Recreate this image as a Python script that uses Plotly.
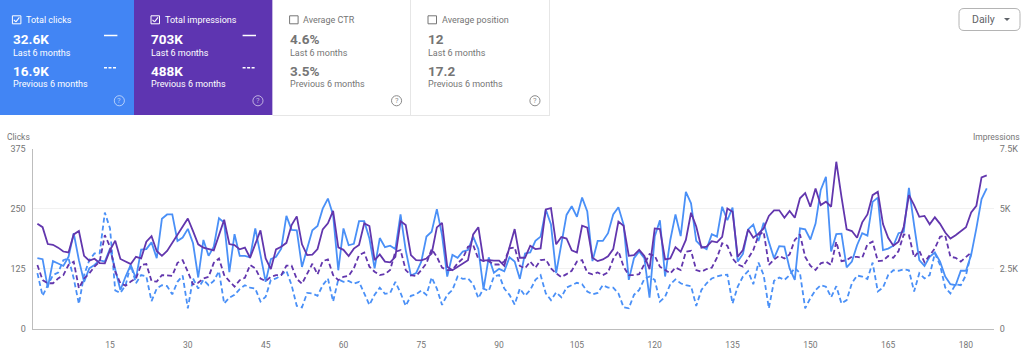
import plotly.graph_objects as go

clicks = [147,145,86,141,136,131,150,199,143,98,126,133,143,140,167,126,81,109,133,105,165,166,180,147,229,238,238,183,190,208,178,107,185,152,171,230,221,118,197,152,152,149,209,154,
98,145,150,167,235,206,205,129,167,205,214,250,271,237,122,209,174,177,224,224,188,126,189,170,173,166,238,164,111,116,140,192,202,249,195,109,154,148,161,164,192,166,83,149,117,125,120,149,140,104,
157,159,183,192,248,217,116,174,237,255,233,273,244,141,183,183,199,238,253,217,102,147,161,147,65,192,226,109,185,238,193,285,261,183,172,166,197,192,254,226,252,140,156,207,217,183,221,181,147,172,
171,126,102,209,207,186,219,289,316,161,197,198,128,140,174,199,194,264,273,164,167,173,199,202,293,216,143,131,150,159,140,109,93,91,121,121,154,209,270,292]

impressions = [4370,4230,3530,3500,3380,3220,3180,3930,4070,3040,2840,2920,2740,2730,3280,3670,2910,2820,2700,3000,2930,3630,3860,3240,3040,3240,3580,3900,4280,4590,4070,3520,3380,3320,3270,3900,4540,3530,3490,3310,3380,2960,3530,4100,
2930,2490,3310,3420,3580,4320,4680,3520,3070,3090,3320,4140,4390,4910,3390,3290,3030,3340,3490,4390,4280,2860,3100,2800,2770,3000,4480,4320,3070,2860,2850,2930,3140,4220,4410,2590,2440,2590,2710,2860,3930,4230,2840,2860,2840,2840,2630,3350,4150,2960,
2960,3460,3320,3350,4970,5020,3520,3820,3760,3270,3180,4290,4210,2960,2820,2890,3020,3320,4460,4290,3040,3070,3290,3030,2490,4180,4150,2890,2930,3400,3210,3700,4830,4260,3380,3420,3650,3600,3830,5010,4870,3000,3280,4140,3790,3960,4180,4700,4930,4930,
4620,4900,4620,5430,5650,5080,5840,5150,5290,5080,6950,5490,4140,4070,3790,4430,4760,5560,5700,4360,3790,3460,3630,4250,5560,5150,4660,4700,4350,4640,4370,4010,3760,3900,4070,4230,4840,5120,6300,6380]

prev_impressions = [2660,2030,1900,1900,2100,2240,2660,2800,1690,2100,2310,2590,2800,3900,3420,2380,1900,1800,1970,2100,2660,2700,1990,1970,2240,2210,2210,2750,2860,2380,1850,1920,2100,2170,2750,2930,2240,1990,1760,2030,2130,2660,2520,2100,
1990,2170,2240,2240,2630,2630,2080,1880,2310,2710,2270,2820,2890,2240,2030,2170,2210,2520,3070,3180,2590,2380,2240,2280,2450,3210,3280,2450,2240,2200,2450,2730,3320,3000,2550,2450,2450,2730,2930,3420,3490,2910,2820,2820,2680,2680,2800,3350,3390,2620,
2520,2800,2550,2860,2890,2520,2310,2160,2280,2420,2800,2860,2340,2270,2350,2240,2350,2910,3240,2590,2240,2240,2280,2730,3110,3040,2590,2450,2310,2550,2450,3210,3250,2450,2380,2490,2550,2960,3560,3460,2930,2680,2590,2930,3280,3900,4040,2660,2890,3040,
2930,3100,3700,3930,3000,2630,2450,2730,2800,2660,3630,2820,2860,3000,3000,2960,3520,3630,2820,2840,3030,2960,3240,3930,3900,2980,3250,2770,3070,3350,3830,3880,3000,2960,2800,3000,3180]

prev_clicks = [116,69,91,112,117,143,147,105,52,112,143,157,157,242,209,80,75,91,133,95,112,109,58,84,91,89,72,98,111,43,105,84,102,91,100,120,53,65,71,83,91,86,84,57,
67,102,105,112,121,91,48,45,75,74,69,91,105,57,103,98,100,94,98,74,50,71,86,73,75,98,75,48,69,72,80,71,107,84,50,71,81,109,104,105,93,64,84,79,109,112,84,71,51,84,
69,81,102,112,74,60,76,66,86,91,96,93,78,72,75,91,86,86,74,45,43,71,81,104,109,102,57,67,93,103,95,91,89,48,81,95,105,109,112,113,53,88,109,120,93,138,112,43,100,107,
102,112,127,116,43,64,81,91,88,66,89,53,60,95,111,109,104,138,78,86,112,122,121,124,122,78,116,105,112,157,133,86,74,93,91,112,157]

x_ticks = list(range(15, 181, 15))
click_ticks = [0, 125, 250, 375]
impression_ticks = [0, 2500, 5000, 7500]
impression_labels = ["0", "2.5K", "5K", "7.5K"]

cards = [
    dict(title="Total clicks", cur="32.6K", prev="16.9K", origin=-4.6, left=0, right=134, fill="#4285f4", fg="#ffffff", on=True),
    dict(title="Total impressions", cur="703K", prev="488K", origin=134, left=134, right=272.6, fill="#5e35b1", fg="#ffffff", on=True),
    dict(title="Average CTR", cur="4.6%", prev="3.5%", origin=272.6, left=272.6, right=411, fill="#ffffff", fg="#757575", on=False),
    dict(title="Average position", cur="12", prev="17.2", origin=411, left=411, right=550, fill="#ffffff", fg="#757575", on=False),
]

BLUE = "#4a90f7"
PURPLE = "#6236ad"
GREY = "#757575"
FONT = "Roboto"
W, H = 1024, 361
L, R, T, B = 32.5, 994.0, 148.5, 329.0

def px(x):
    return x / W

def py(y):
    return 1 - y / H

def xs(values):
    return list(range(1, len(values) + 1))

fig = go.Figure()
DASH = "5px,3px"
fig.add_trace(go.Scatter(x=xs(prev_clicks), y=prev_clicks, mode="lines", line=dict(color=BLUE, width=1.8, dash=DASH), yaxis="y"))
fig.add_trace(go.Scatter(x=xs(prev_impressions), y=prev_impressions, mode="lines", line=dict(color=PURPLE, width=1.8, dash=DASH), yaxis="y2"))
fig.add_trace(go.Scatter(x=xs(impressions), y=impressions, mode="lines", line=dict(color=PURPLE, width=1.8), yaxis="y2"))
fig.add_trace(go.Scatter(x=xs(clicks), y=clicks, mode="lines", line=dict(color=BLUE, width=1.8), yaxis="y"))

shapes, notes = [], []

def rect(x0, y0, x1, y1, fill, line=None, w=1):
    shapes.append(dict(type="rect", xref="paper", yref="paper", x0=px(x0), x1=px(x1), y0=py(y0), y1=py(y1),
                       fillcolor=fill, line=dict(color=line or fill, width=w if line else 0), layer="below"))

def seg(x0, y0, x1, y1, color, w=1.5, dash="solid"):
    shapes.append(dict(type="line", xref="paper", yref="paper", x0=px(x0), x1=px(x1), y0=py(y0), y1=py(y1),
                       line=dict(color=color, width=w, dash=dash), layer="below"))

def text(x, y, s, size, color, anchor="left"):
    notes.append(dict(xref="paper", yref="paper", x=px(x), y=py(y), text=s, showarrow=False, xanchor=anchor, yanchor="middle",
                      borderpad=0, font=dict(family=FONT, size=size, color=color)))

for c in cards:
    o, fg = c["origin"], c["fg"]
    rect(c["left"], 0, c["right"], 115, c["fill"])
    if c["fill"] == "#ffffff":
        seg(c["left"], 115.5, c["right"], 115.5, "#e6e6e6", 1)
        seg(c["right"] - 0.5, 0, c["right"] - 0.5, 115.5, "#e6e6e6", 1)
    rect(o + 17, 15.8, o + 25.5, 23.8, "rgba(0,0,0,0)", fg, 1)
    if c["on"]:
        seg(o + 18.5, 19.8, o + 20.5, 21.8, fg, 1.1)
        seg(o + 20.5, 21.8, o + 24, 17.3, fg, 1.1)
    text(o + 29.5, 19.5, c["title"], 9, fg)
    text(o + 16.2, 39.3, "<b>%s</b>" % c["cur"], 13.5, fg)
    text(o + 16.2, 52.7, "Last 6 months", 9, fg)
    text(o + 16.2, 71, "<b>%s</b>" % c["prev"], 13.5, fg)
    text(o + 16.2, 84.3, "Previous 6 months", 9, fg)
    if c["on"]:
        seg(o + 108.6, 35.5, o + 122, 35.5, fg, 1.5)
        seg(o + 108.6, 67.7, o + 122, 67.7, fg, 1.5, "3px,1.5px")
    qc = "rgba(255,255,255,0.6)" if c["on"] else "#8a8a8a"
    shapes.append(dict(type="circle", xref="paper", yref="paper", x0=px(o + 118.9), x1=px(o + 129), y0=py(95.7), y1=py(105.8),
                       line=dict(color=qc, width=1), layer="below"))
    text(o + 124, 100.9, "?", 7.5, qc, "center")

# period selector
bx0, bx1, by0, by1, r = px(959), px(1020), py(8.5), py(30.5), 5
rx, ry = r / W, r / H
shapes.append(dict(type="path", xref="paper", yref="paper",
                   path=f"M {bx0+rx} {by0} L {bx1-rx} {by0} Q {bx1} {by0} {bx1} {by0-ry} L {bx1} {by1+ry} Q {bx1} {by1} {bx1-rx} {by1} "
                        f"L {bx0+rx} {by1} Q {bx0} {by1} {bx0} {by1+ry} L {bx0} {by0-ry} Q {bx0} {by0} {bx0+rx} {by0} Z",
                   line=dict(color="#b4b4b4", width=1), fillcolor="#ffffff", layer="below"))
text(971, 19.5, "Daily", 10.5, "#5f6368")
shapes.append(dict(type="path", xref="paper", yref="paper",
                   path=f"M {px(1004)} {py(18)} L {px(1010)} {py(18)} L {px(1007)} {py(21)} Z",
                   line=dict(width=0), fillcolor="#5f6368", layer="below"))
text(6, 136.5, "Clicks", 8.5, GREY)
text(1021, 136.5, "Impressions", 8.5, GREY, "right")

fig.update_layout(
    width=W, height=H, autosize=False, showlegend=False,
    paper_bgcolor="#ffffff", plot_bgcolor="rgba(0,0,0,0)",
    margin=dict(l=0, r=0, t=0, b=0, pad=0, autoexpand=False),
    font=dict(family=FONT, size=10, color=GREY),
    hovermode=False, shapes=shapes, annotations=notes,
    xaxis=dict(domain=[L / W, R / W], range=[0.055, 185.4], tickmode="array", tickvals=x_ticks, showgrid=False, zeroline=False,
               showline=True, linecolor="#bdbdbd", linewidth=1, ticks="outside", ticklen=8, tickcolor="rgba(0,0,0,0)",
               tickfont=dict(size=8.5, color=GREY)),
    yaxis=dict(domain=[1 - B / H, 1 - T / H], range=[0, 375], tickmode="array", tickvals=click_ticks, gridcolor="#f1f1f1", gridwidth=1, zeroline=False,
               showline=True, linecolor="#bdbdbd", linewidth=1, ticks="outside", ticklen=4, tickcolor="rgba(0,0,0,0)",
               tickfont=dict(size=9, color=GREY)),
    yaxis2=dict(domain=[1 - B / H, 1 - T / H], range=[0, 7500], overlaying="y", side="right", tickmode="array", tickvals=impression_ticks, ticktext=impression_labels,
                showgrid=False, zeroline=False, showline=False, ticks="outside", ticklen=3, tickcolor="rgba(0,0,0,0)",
                tickfont=dict(size=9, color=GREY)),
)

fig.write_html("out.html", config=dict(displayModeBar=False),
               post_script="document.body.style.margin='0';document.body.style.overflow='hidden';")
